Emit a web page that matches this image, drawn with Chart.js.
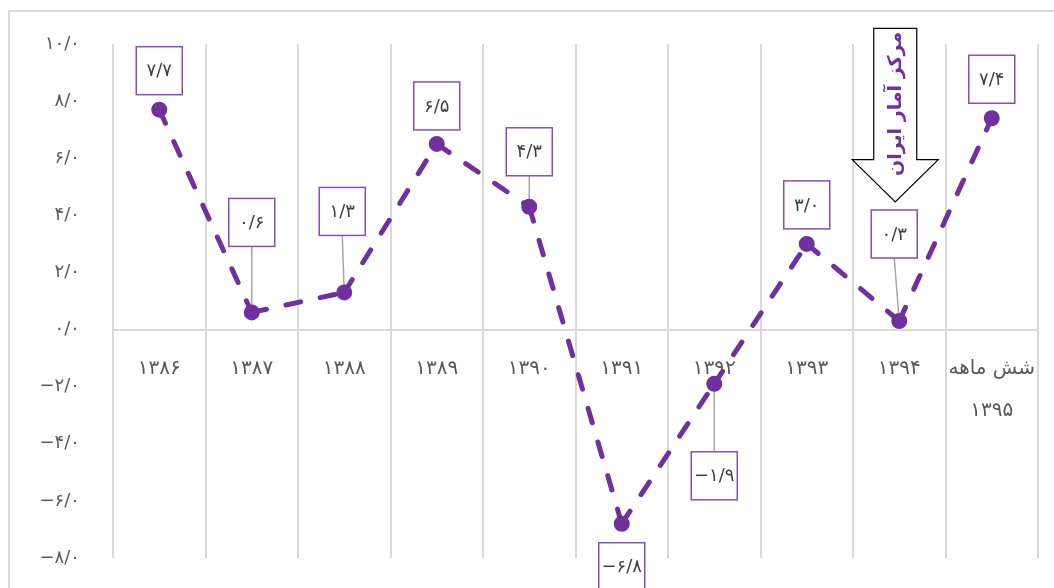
<!DOCTYPE html>
<html>
<head>
<meta charset="utf-8">
<script src="https://cdn.jsdelivr.net/npm/chart.js@4.4.1/dist/chart.umd.min.js"></script>
<style>
body{margin:0;background:#fff}
#wrap{position:relative;width:1054px;height:588px;overflow:hidden}
#frame{position:absolute;left:8px;top:10px;width:1100px;height:700px;border:2px solid #d9d9d9}
#mychart{position:absolute;left:0;top:0}
</style>
</head>
<body>
<div id="wrap">
    <div id="frame"></div>
    <canvas id="mychart" width="1054" height="588"></canvas>
</div>
<script>
// داده‌ها
let categories = ['۱۳۸۶', '۱۳۸۷', '۱۳۸۸', '۱۳۸۹', '۱۳۹۰', '۱۳۹۱', '۱۳۹۲', '۱۳۹۳', '۱۳۹۴', ['شش ماهه', '۱۳۹۵']]
let values = [7.7, 0.6, 1.3, 6.5, 4.3, -6.8, -1.9, 3.0, 0.3, 7.4]
let yTicks = [-8, -6, -4, -2, 0, 2, 4, 6, 8, 10]
let noteText = 'مرکز آمار ایران'

// جای برچسب‌ها نسبت به نقطه (پیکسل)
let labelDx = [0, 0, -2, 0, 0, 0, 0, 0, -5, 0]
let labelDy = [-39, -90, -81, -38, -55, 43, 92, -39, -87, -39]

let purple = '#7030a0'
let faFont = '"DejaVu Sans", sans-serif'

function toFa(num) {
    let s = num.toFixed(1).replace('.', '/').replace('-', '−')
    return s.replace(/[0-9]/g, d => '۰۱۲۳۴۵۶۷۸۹'[d])
}

document.addEventListener('DOMContentLoaded', function () {
    fun_chart()
})

// خط راهنما زیر نقطه‌ها
let leaderPlugin = {
    id: 'leaders',
    beforeDatasetsDraw(chart) {
        let ctx = chart.ctx
        let meta = chart.getDatasetMeta(0)
        ctx.save()
        ctx.strokeStyle = '#a6a6a6'
        ctx.lineWidth = 1.5
        meta.data.forEach((pt, i) => {
            if (Math.abs(labelDy[i]) < 45) return
            let bx = pt.x + labelDx[i]
            let by = pt.y + labelDy[i] + (labelDy[i] < 0 ? 24 : -24)
            ctx.beginPath()
            ctx.moveTo(bx, by)
            ctx.lineTo(pt.x, pt.y)
            ctx.stroke()
        })
        ctx.restore()
    }
}

// جعبه‌های مقدار
let boxPlugin = {
    id: 'boxes',
    afterDatasetsDraw(chart) {
        let ctx = chart.ctx
        let meta = chart.getDatasetMeta(0)
        ctx.save()
        meta.data.forEach((pt, i) => {
            let bx = pt.x + labelDx[i]
            let by = pt.y + labelDy[i]
            ctx.fillStyle = '#fff'
            ctx.fillRect(bx - 23, by - 24, 46, 48)
            ctx.strokeStyle = '#8750b8'
            ctx.lineWidth = 1.5
            ctx.strokeRect(bx - 23, by - 24, 46, 48)
            ctx.fillStyle = '#404040'
            ctx.font = '18px ' + faFont
            ctx.textAlign = 'center'
            ctx.textBaseline = 'middle'
            ctx.fillText(toFa(values[i]), bx, by + 1)
        })
        ctx.restore()
    }
}

// فلش منبع
let arrowPlugin = {
    id: 'arrow',
    afterDatasetsDraw(chart) {
        let ctx = chart.ctx
        let xs = chart.scales.x
        let ys = chart.scales.y
        let cx = xs.getPixelForValue(8) - 4
        let top = ys.getPixelForValue(10.55)
        let base = ys.getPixelForValue(5.95)
        let tip = ys.getPixelForValue(4.47)
        ctx.save()
        ctx.beginPath()
        ctx.moveTo(cx - 21.5, top)
        ctx.lineTo(cx + 21.5, top)
        ctx.lineTo(cx + 21.5, base)
        ctx.lineTo(cx + 43, base)
        ctx.lineTo(cx, tip)
        ctx.lineTo(cx - 43, base)
        ctx.lineTo(cx - 21.5, base)
        ctx.closePath()
        ctx.fillStyle = '#fff'
        ctx.fill()
        ctx.strokeStyle = '#000'
        ctx.lineWidth = 1.2
        ctx.stroke()
        ctx.translate(cx + 1, (top + base) / 2 + 10)
        ctx.rotate(-Math.PI / 2)
        ctx.fillStyle = purple
        ctx.font = 'bold 19px ' + faFont
        ctx.textAlign = 'center'
        ctx.textBaseline = 'middle'
        ctx.fillText(noteText, 0, 0)
        ctx.restore()
    }
}

function fun_chart() {
    let ctx = document.getElementById('mychart').getContext('2d')
    let mychart = new Chart(ctx, {
        type: 'line',
        data: {
            labels: categories,
            datasets: [{
                data: values,
                borderColor: purple,
                backgroundColor: purple,
                borderWidth: 5,
                borderDash: [15, 20],
                borderCapStyle: 'round',
                pointRadius: 7,
                pointBorderWidth: 2,
                pointBackgroundColor: purple,
                pointBorderColor: purple,
                tension: 0,
                segment: {
                    // هر پاره خط جدا کشیده شود تا خط‌چین از نقطه شروع شود
                    borderDashOffset: c => c.p0DataIndex * 0.001
                }
            }]
        },
        options: {
            responsive: false,
            animation: false,
            layout: { padding: { top: 44, bottom: 30, left: 0, right: 16 } },
            plugins: {
                legend: { display: false },
                tooltip: { enabled: false }
            },
            scales: {
                x: {
                    position: { y: 0 },
                    offset: true,
                    afterFit: s => { s.height = 0 },
                    grid: { offset: true, color: '#d9d9d9', lineWidth: 2, drawTicks: false },
                    border: { display: true, color: '#d9d9d9', width: 2 },
                    ticks: {
                        autoSkip: false,
                        maxRotation: 0,
                        minRotation: 0,
                        padding: 18,
                        color: '#595959',
                        font: { family: faFont, size: 20, lineHeight: 2.1 }
                    }
                },
                y: {
                    min: -8,
                    max: 10,
                    afterFit: s => {
                        s.width = 113
                        s.paddingTop = 0
                        s.paddingBottom = 0
                    },
                    afterBuildTicks: s => { s.ticks = yTicks.map(v => ({ value: v })) },
                    grid: { display: false, drawTicks: false },
                    border: { display: false },
                    ticks: {
                        padding: 33,
                        color: '#595959',
                        font: { family: faFont, size: 18 },
                        callback: v => toFa(v)
                    }
                }
            }
        },
        plugins: [leaderPlugin, boxPlugin, arrowPlugin]
    })
}
</script>
</body>
</html>
